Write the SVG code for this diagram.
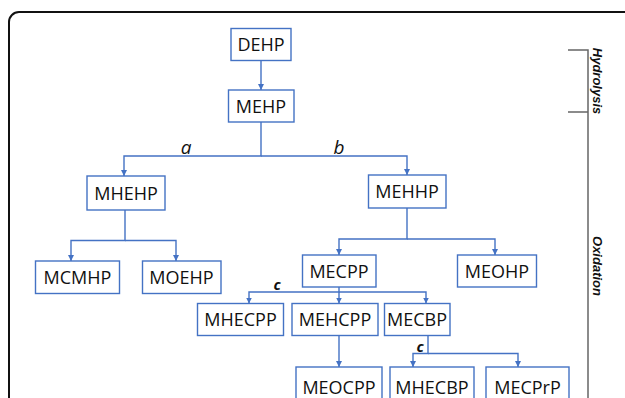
<svg xmlns="http://www.w3.org/2000/svg" width="625" height="398" viewBox="0 0 625 398">
<defs>
<style>
.box{fill:#fff;stroke:#4472C4;stroke-width:1.4}
.lbl{font-family:"Open Sans","Liberation Sans",sans-serif;font-size:18px;fill:#111;text-anchor:middle}
.con{fill:none;stroke:#4472C4;stroke-width:1.4}
.ab{font-family:"Open Sans","Liberation Sans",sans-serif;font-size:19px;font-style:italic;fill:#111;text-anchor:middle}
.c{font-family:"Open Sans","Liberation Sans",sans-serif;font-size:15px;font-style:italic;font-weight:bold;fill:#111;text-anchor:middle}
.side{font-family:"Liberation Sans",sans-serif;font-size:13px;font-style:italic;font-weight:bold;fill:#111;text-anchor:middle}
.br{fill:none;stroke:#666;stroke-width:1.5}
</style>
<marker id="ah" viewBox="0 0 8 8" refX="8" refY="4" markerWidth="6" markerHeight="6" markerUnits="userSpaceOnUse" orient="auto">
<path d="M0,0 L8,4 L0,8 z" fill="#4472C4"/>
</marker>
</defs>
<path d="M9,400 V22 A10,10 0 0 1 19,12 H630" fill="none" stroke="#111" stroke-width="2"/>
<g id="bracket">
<path class="br" d="M568,50 H588 V400 M568,112 H588"/>
<text class="side" transform="translate(593,81) rotate(90)">Hydrolysis</text>
<text class="side" transform="translate(593,266) rotate(90)">Oxidation</text>
</g>
<g id="connectors">
<path class="con" d="M261,60 V90" marker-end="url(#ah)"/>
<path class="con" d="M261,122 V156 H124 V176" marker-end="url(#ah)"/>
<path class="con" d="M261,156 H407 V175" marker-end="url(#ah)"/>
<path class="con" d="M125,210 V240.5 H71 V261" marker-end="url(#ah)"/>
<path class="con" d="M125,240.5 H176 V261" marker-end="url(#ah)"/>
<path class="con" d="M407,208 V239 H339 V255" marker-end="url(#ah)"/>
<path class="con" d="M407,239 H495 V255" marker-end="url(#ah)"/>
<path class="con" d="M339,287 V292 H249 V303.5" marker-end="url(#ah)"/>
<path class="con" d="M339,292 V303.5" marker-end="url(#ah)"/>
<path class="con" d="M339,292 H426 V303.5" marker-end="url(#ah)"/>
<path class="con" d="M339,335.5 V367" marker-end="url(#ah)"/>
<path class="con" d="M428,335.5 V353.5 H413 V367" marker-end="url(#ah)"/>
<path class="con" d="M428,353.5 H518 V367" marker-end="url(#ah)"/>
<text class="ab" x="186" y="154">a</text>
<text class="ab" x="339" y="154">b</text>
<text class="c" x="277" y="290">c</text>
<text class="c" x="420" y="351.5">c</text>
</g>
<g id="DEHP"><rect class="box" x="231" y="28.5" width="60" height="32"/><text class="lbl" x="261" y="51">DEHP</text></g>
<g id="MEHP"><rect class="box" x="228.5" y="90" width="65.5" height="32"/><text class="lbl" x="261" y="112.5">MEHP</text></g>
<g id="MHEHP"><rect class="box" x="87" y="176" width="78" height="34"/><text class="lbl" x="126" y="199.5">MHEHP</text></g>
<g id="MEHHP"><rect class="box" x="368.5" y="175" width="77.5" height="33"/><text class="lbl" x="407" y="198">MEHHP</text></g>
<g id="MCMHP"><rect class="box" x="35.5" y="261" width="84" height="32.5"/><text class="lbl" x="77.5" y="284">MCMHP</text></g>
<g id="MOEHP"><rect class="box" x="142.5" y="261" width="78.5" height="32.5"/><text class="lbl" x="181.5" y="284">MOEHP</text></g>
<g id="MECPP"><rect class="box" x="302.5" y="255" width="73.5" height="32"/><text class="lbl" x="339" y="277.5">MECPP</text></g>
<g id="MEOHP"><rect class="box" x="457.5" y="255" width="79" height="32"/><text class="lbl" x="497" y="277.5">MEOHP</text></g>
<g id="MHECPP"><rect class="box" x="197.5" y="303.5" width="86" height="32"/><text class="lbl" x="240.5" y="326">MHECPP</text></g>
<g id="MEHCPP"><rect class="box" x="292" y="303.5" width="86" height="32"/><text class="lbl" x="335" y="326">MEHCPP</text></g>
<g id="MECBP"><rect class="box" x="384.5" y="303.5" width="65.5" height="32"/><text class="lbl" x="417" y="326">MECBP</text></g>
<g id="MEOCPP"><rect class="box" x="296" y="367" width="86" height="40"/><text class="lbl" x="339" y="393.5">MEOCPP</text></g>
<g id="MHECBP"><rect class="box" x="390" y="367" width="84" height="40"/><text class="lbl" x="432" y="393.5">MHECBP</text></g>
<g id="MECPrP"><rect class="box" x="486" y="367" width="83" height="40"/><text class="lbl" x="527.5" y="393.5">MECPrP</text></g>
</svg>
